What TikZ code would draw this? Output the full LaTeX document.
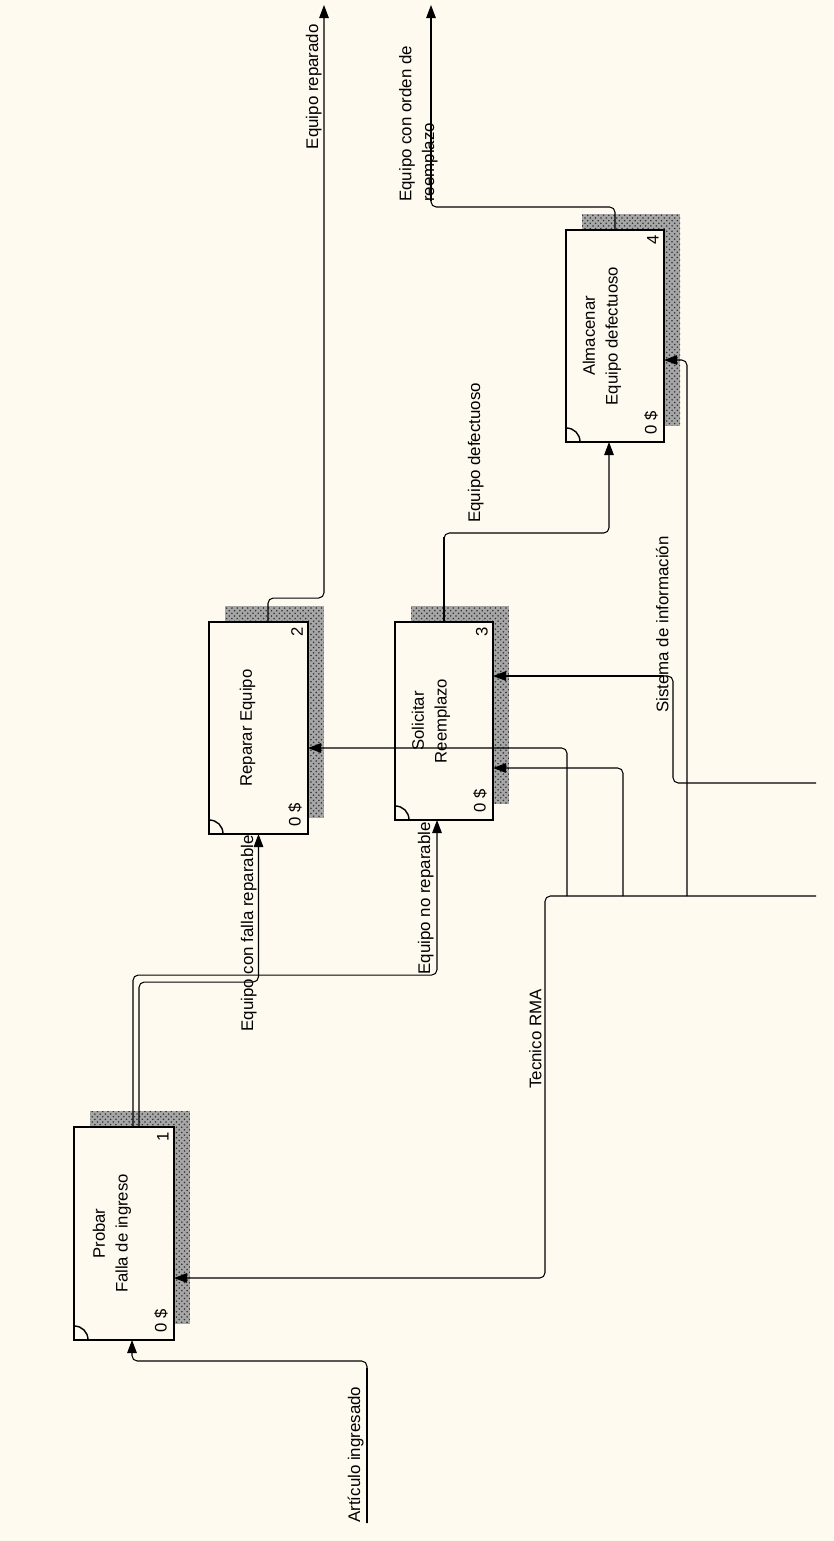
\documentclass[tikz,border=0pt]{standalone}
\usepackage{fontspec}
\setmainfont{Liberation Sans}
\usetikzlibrary{arrows.meta, positioning, patterns, backgrounds}
\definecolor{paper}{HTML}{FFFAF0}

\tikzset{
  fbox/.style={draw, line width=1.1pt, fill=paper, inner sep=0pt, outer sep=0pt},
  boxtext/.style={rotate=90, align=center, font=\fontsize{9.5}{13}\selectfont, inner sep=0pt},
  tag/.style={rotate=90, font=\fontsize{9.5}{11}\selectfont, inner sep=0pt},
  lbl/.style={rotate=90, align=left, font=\fontsize{9.6}{13}\selectfont, inner sep=0pt},
  flow/.style={line width=0.6pt, rounded corners=3pt, -{Triangle[length=7.5pt,width=5.5pt]}},
  heavy/.style={line width=1.1pt},
  shade/.style={preaction={fill=black!35}, pattern=crosshatch dots, pattern color=black!80},
}

\begin{document}
\begin{tikzpicture}[x=0.02cm, y=-0.02cm]
  \useasboundingbox (0,0) rectangle (833,1541);

  % activity boxes
  \node[fbox, minimum width=2cm, minimum height=4.26cm] (probar) at (124,1233.5) {};
  \node[fbox, minimum width=1.98cm, minimum height=4.24cm] (reparar) at (258.5,728) {};
  \node[fbox, minimum width=1.96cm, minimum height=3.96cm] (solicitar) at (444,721) {};
  \node[fbox, minimum width=1.96cm, minimum height=4.24cm] (almacenar) at (615,336) {};

  \node[boxtext] (probar-txt) at ([shift={(-12,0)}]probar.center) {Probar\\Falla de ingreso};
  \node[boxtext] (reparar-txt) at ([shift={(-11,0)}]reparar.center) {Reparar Equipo};
  \node[boxtext] (solicitar-txt) at ([shift={(-13,0)}]solicitar.center) {Solicitar\\Reemplazo};
  \node[boxtext] (almacenar-txt) at ([shift={(-13,0)}]almacenar.center) {Almacenar\\Equipo defectuoso};

  \foreach \b/\n in {probar/1,reparar/2,solicitar/3,almacenar/4} {
    \node[tag] (\b-num) at ([shift={(-11,10)}]\b.north east) {\n};
    \node[tag] (\b-cost) at ([shift={(-13,-19)}]\b.south east) {0 \$};
    \draw[line width=0.8pt] ([shift={(0,-14)}]\b.south west) .. controls ([shift={(8,-14)}]\b.south west) and ([shift={(14,-8)}]\b.south west) .. ([shift={(14,0)}]\b.south west);
  }

  % paper and shadows
  \begin{scope}[on background layer]
    \fill[paper] (0,0) rectangle (833,1541);
    \foreach \b in {probar,reparar,solicitar,almacenar}
      \path[shade] ([shift={(16,-16)}]\b.south west) rectangle ([shift={(16,-16)}]\b.north east);
  \end{scope}

  % free ends
  \coordinate (art) at (367,1523);
  \coordinate (outrep) at (324,5);
  \coordinate (outord) at (431,5);
  \coordinate (tec) at (816,896);
  \coordinate (sis) at (816,783);

  % inputs and outputs
  \draw[flow] (art) -- ++(0,-162) -| ([shift={(58,0)}]probar.south west);
  \draw[heavy] (art) -- ++(0,-155);
  \draw[flow] ([shift={(65,0)}]probar.north west) -- ++(0,-145) -| (reparar.south);
  \draw[flow] ([shift={(59,0)}]probar.north west) -- ++(0,-152) -| ([shift={(42,0)}]solicitar.south west);
  \draw[flow] ([shift={(59,0)}]reparar.north west) -- ++(0,-24) -| (outrep);
  \draw[flow] (solicitar.north) -- ++(0,-89) -| ([shift={(43,0)}]almacenar.south west);
  \draw[heavy] (solicitar.north) -- ++(0,-85);
  \draw[flow] (almacenar.north) -- ++(0,-23) -| (outord);
  \draw[heavy, shorten >=7pt] ([shift={(0,196)}]outord) -- (outord);

  % controls
  \draw[flow] (tec) -- ++(-271,0) |- ([shift={(0,44.5)}]probar.east);
  \draw[flow] ([shift={(-249,0)}]tec) |- ([shift={(0,20)}]reparar.east);
  \draw[flow] ([shift={(-193,0)}]tec) |- ([shift={(0,47)}]solicitar.east);
  \draw[flow] ([shift={(-129,0)}]tec) |- ([shift={(0,24)}]almacenar.east);
  \draw[flow] (sis) -- ++(-143,0) |- ([shift={(0,-45)}]solicitar.east);
  \draw[heavy, shorten <=7pt] ([shift={(0,-45)}]solicitar.east) -- ++(170,0);

  % arrow labels
  \node[lbl, anchor=south west] (art-lbl) at (364,1523) {Artículo ingresado};
  \node[lbl, anchor=south east] (rep-lbl) at (257,835) {Equipo con falla reparable};
  \node[lbl, anchor=south east] (norep-lbl) at (434,822) {Equipo no reparable};
  \node[lbl, anchor=south east] (outrep-lbl) at (322,24) {Equipo reparado};
  \node[lbl, anchor=south west] (outord-lbl) at (438,202) {Equipo con orden de\\reemplazo};
  \node[lbl, anchor=south west] (def-lbl) at (484,523) {Equipo defectuoso};
  \node[lbl, anchor=south west] (tec-lbl) at (542,1089) {Tecnico RMA};
  \node[lbl, anchor=south west] (sis-lbl) at (669,713) {Sistema de información};
\end{tikzpicture}
\end{document}
